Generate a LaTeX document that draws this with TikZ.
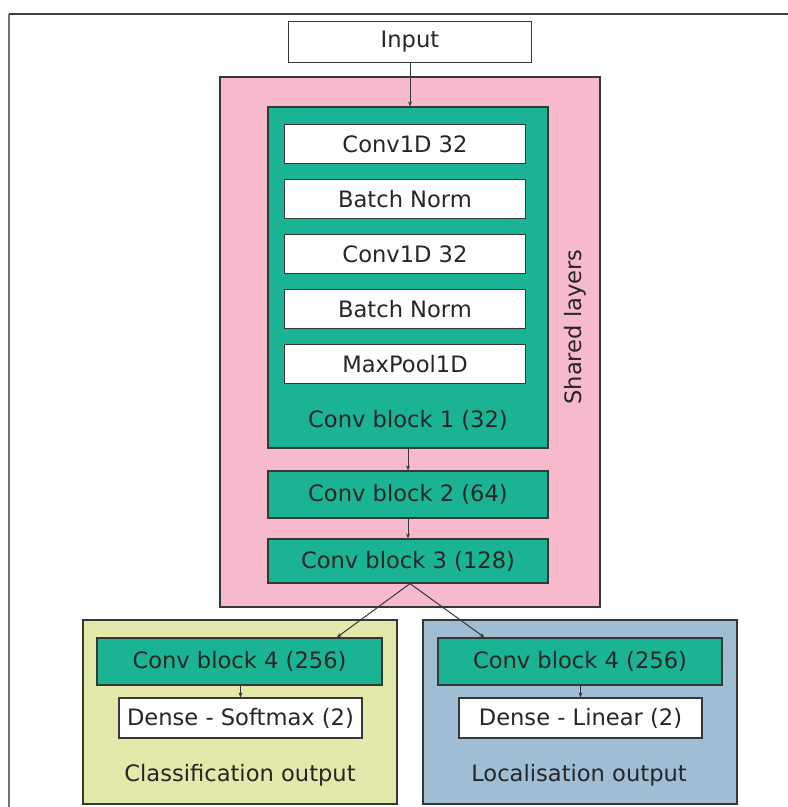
\documentclass[tikz,border=0pt]{standalone}
\usepackage{fontspec}
\setmainfont{DejaVu Sans}
\usetikzlibrary{arrows.meta,calc}
\definecolor{sharedpink}{RGB}{246,186,204}
\definecolor{blockgreen}{RGB}{26,180,148}
\definecolor{clsyellow}{RGB}{228,232,170}
\definecolor{locblue}{RGB}{160,190,211}
\definecolor{edge}{RGB}{55,55,55}
\tikzset{
  box/.style={draw=edge, line width=1.2pt, rectangle, inner sep=0pt, font=\fontsize{22.6}{26}\selectfont, text=black!85},
  layer/.style={box, fill=white, minimum width=241pt, minimum height=39pt},
  convblock/.style={box, fill=blockgreen, minimum width=280pt},
  group/.style={box, minimum width=314pt, minimum height=184pt},
  lbl/.style={font=\fontsize{22.6}{26}\selectfont, text=black!85, inner sep=0pt},
  flow/.style={draw=edge, line width=1pt, -{Stealth[length=5pt,width=4pt]}},
  frameline/.style={line width=2pt}
}
\begin{document}
\begin{tikzpicture}[x=1pt, y=-1pt]
  \useasboundingbox (0,0) rectangle (788,807);
  % page frame: darker top rule, lighter left rule
  \coordinate (ftl) at (9,14);
  \coordinate (ftr) at (789,14);
  \coordinate (fbl) at (9,808);
  \draw[frameline, draw=black!55] (ftl) -- (fbl);
  \draw[frameline, draw=black!75] (ftl) -- (ftr);

  % input
  \node[box, fill=white, minimum width=243pt, minimum height=41pt] (input) at (410,42) {Input};

  % shared layers
  \node[box, fill=sharedpink, minimum width=380pt, minimum height=530pt] (shared) at (410,342) {};
  \node[lbl, rotate=90] (sharedlbl) at (575,327) {Shared layers};

  \node[convblock, minimum height=341pt] (block1) at (408,277.5) {};
  \node[layer] (conva) at (405,144) {Conv1D 32};
  \node[layer] (norma) at (405,199) {Batch Norm};
  \node[layer] (convb) at (405,254) {Conv1D 32};
  \node[layer] (normb) at (405,309) {Batch Norm};
  \node[layer] (pool) at (405,364) {MaxPool1D};
  \node[lbl] (block1lbl) at (408,420) {Conv block 1 (32)};

  \node[convblock, minimum height=47pt] (block2) at (408,494.5) {Conv block 2 (64)};
  \node[convblock, minimum height=44pt] (block3) at (408,561) {Conv block 3 (128)};

  % classification head
  \node[group, fill=clsyellow] (clsgroup) at (240,712) {};
  \node[convblock, minimum width=285pt, minimum height=47pt] (clsconv) at (239.5,661.5) {Conv block 4 (256)};
  \node[layer, minimum width=243pt, minimum height=40pt] (clsdense) at (240.5,718) {Dense - Softmax (2)};
  \node[lbl] (clslbl) at (240,775) {Classification output};

  % localisation head
  \node[group, fill=locblue] (locgroup) at (580,712) {};
  \node[convblock, minimum width=284pt, minimum height=47pt] (locconv) at (580,661.5) {Conv block 4 (256)};
  \node[layer, minimum width=243pt, minimum height=40pt] (locdense) at (580.5,718) {Dense - Linear (2)};
  \node[lbl] (loclbl) at (579,775) {Localisation output};

  % connectors
  \coordinate (splitpt) at ($(block3.south)+(2,0)$);
  \coordinate (clsin) at ($(clsconv.north west)!0.84!(clsconv.north east)$);
  \coordinate (locin) at ($(locconv.north west)!0.165!(locconv.north east)$);
  \draw[flow] (input.south) -- (input.south |- block1.north);
  \draw[flow] (block1.south) -- (block2.north);
  \draw[flow] (block2.south) -- (block3.north);
  \draw[flow] (splitpt) -- (clsin);
  \draw[flow] (splitpt) -- (locin);
  \draw[flow] (clsconv.south -| clsdense.north) -- (clsdense.north);
  \draw[flow] (locconv.south -| locdense.north) -- (locdense.north);
\end{tikzpicture}
\end{document}
